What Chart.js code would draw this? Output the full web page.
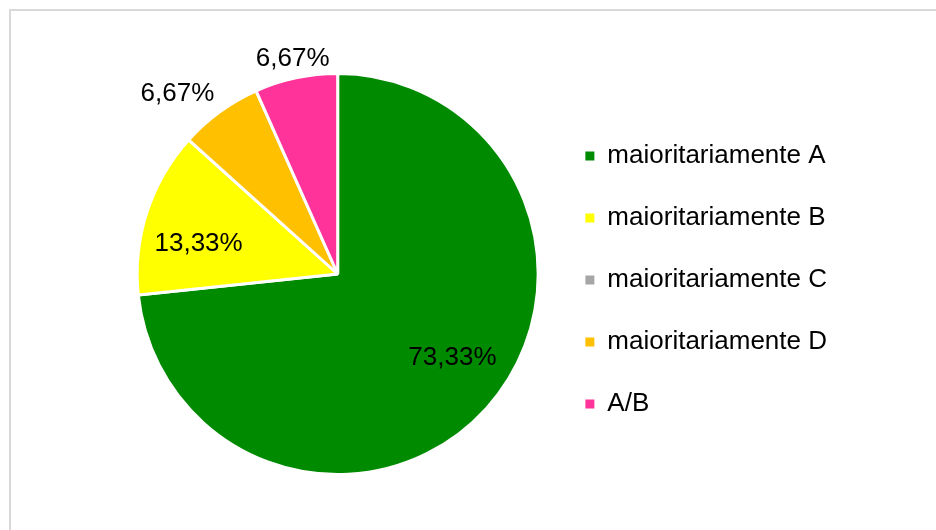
<!DOCTYPE html>
<html>
<head>
<meta charset="utf-8">
<script src="https://cdn.jsdelivr.net/npm/chart.js@4/dist/chart.umd.min.js"></script>
<style>
    html, body { margin: 0; padding: 0; background: #fff; overflow: hidden; }
    #wrap { position: relative; width: 936px; height: 530px; }
    #frame {
        position: absolute; left: 9px; top: 9px; width: 960px; height: 560px;
        border: 2px solid #d9d9d9; box-sizing: border-box; pointer-events: none;
    }
    canvas { position: absolute; left: 0; top: 0; }
</style>
</head>
<body>
<div id="wrap">
    <canvas id="pieChart" width="936" height="530"></canvas>
    <div id="frame"></div>
</div>
<script>
const categories = ['maioritariamente A', 'maioritariamente B', 'maioritariamente C', 'maioritariamente D', 'A/B'];
const percentages = [73.33, 13.33, 0, 6.67, 6.67];
const sliceColors = ['#008A00', '#FFFF00', '#A6A6A6', '#FFC000', '#FF3399'];

Chart.defaults.font.family = '"Liberation Sans", Arial, sans-serif';
Chart.defaults.color = '#000';

function formatPct(v) {
    return v.toFixed(2).replace('.', ',') + '%';
}

// draws the percentage labels, big slices inside, small ones outside
const sliceLabels = {
    id: 'sliceLabels',
    afterDatasetsDraw(chart) {
        const ctx = chart.ctx;
        const meta = chart.getDatasetMeta(0);
        ctx.save();
        ctx.font = '26px "Liberation Sans", Arial, sans-serif';
        ctx.fillStyle = '#000';
        meta.data.forEach((arc, i) => {
            const v = percentages[i];
            if (!v) return;
            const mid = (arc.startAngle + arc.endAngle) / 2;
            if (v > 10) {
                // excel's best fit sits a little before the middle of the slice
                const a = mid - 0.1;
                const r = arc.outerRadius * 0.71;
                ctx.textAlign = 'center';
                ctx.textBaseline = 'middle';
                ctx.fillText(formatPct(v), arc.x + Math.cos(a) * r, arc.y + Math.sin(a) * r);
            } else {
                const cos = Math.cos(mid), sin = Math.sin(mid);
                const r = arc.outerRadius + 6;
                ctx.textAlign = Math.abs(cos) < 0.3 ? 'center' : (cos < 0 ? 'right' : 'left');
                ctx.textBaseline = sin < 0 ? 'bottom' : 'top';
                ctx.fillText(formatPct(v), arc.x + cos * r - 2, arc.y + sin * r);
            }
        });
        ctx.restore();
    }
};

const ctx = document.getElementById('pieChart').getContext('2d');
new Chart(ctx, {
    type: 'pie',
    data: {
        labels: categories,
        datasets: [{
            data: percentages,
            backgroundColor: sliceColors,
            borderColor: '#fff',
            borderWidth: 3
        }]
    },
    options: {
        responsive: false,
        animation: false,
        layout: {
            padding: { left: 126, right: 99, top: 72, bottom: 54 }
        },
        plugins: {
            legend: {
                position: 'right',
                title: { display: true, text: '', font: { size: 10 }, padding: 0 },
                labels: {
                    boxWidth: 9,
                    boxHeight: 9,
                    padding: 36,
                    font: { size: 26 },
                    generateLabels(chart) {
                        // no white outline on the small legend squares
                        return Chart.overrides.pie.plugins.legend.labels.generateLabels(chart)
                            .map(item => ({ ...item, lineWidth: 0 }));
                    }
                }
            },
            tooltip: { enabled: false }
        }
    },
    plugins: [sliceLabels]
});
</script>
</body>
</html>
